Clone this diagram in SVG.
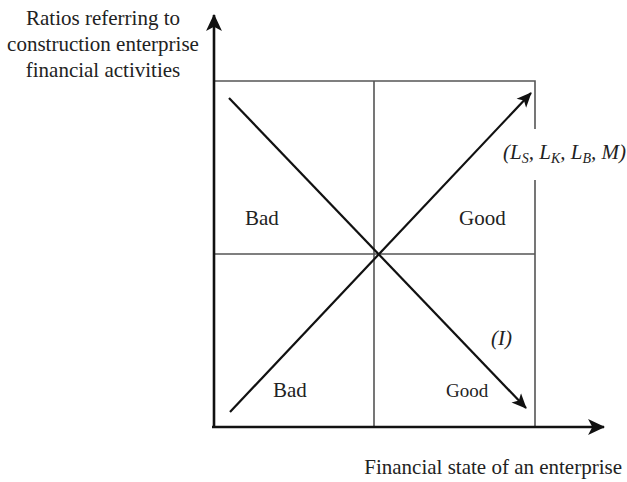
<svg xmlns="http://www.w3.org/2000/svg" width="627" height="482" viewBox="0 0 627 482">
<style>
text{font-family:"Liberation Serif","Times New Roman",serif;fill:#222;}
.lbl{font-size:21px;}
.grid{stroke:#555;stroke-width:1.6;fill:none;}
.axis{stroke:#111;stroke-width:2.6;fill:none;}
.diag{stroke:#111;stroke-width:2.2;fill:none;}
</style>
<defs>
<marker id="ah" viewBox="0 0 16 16" refX="15" refY="8" markerWidth="15" markerHeight="15" orient="auto" markerUnits="userSpaceOnUse">
<path d="M0,1 L16,8 L0,15 L4,8 Z" fill="#111"/>
</marker>
<marker id="ax" viewBox="0 0 16 16" refX="15" refY="8" markerWidth="17" markerHeight="17" orient="auto" markerUnits="userSpaceOnUse">
<path d="M0,0.5 L16,8 L0,15.5 L4,8 Z" fill="#111"/>
</marker>
</defs>
<g id="grid">
<path class="grid" d="M214,81 H535 V129 M535,180 V427 M374,81 V427 M214,254 H535"/>
</g>
<g id="connectors">
<line class="axis" x1="214" y1="428" x2="214" y2="15" marker-end="url(#ax)"/>
<line class="axis" x1="212" y1="427" x2="604" y2="427" marker-end="url(#ax)"/>
<line class="diag" x1="229" y1="98" x2="526" y2="408" marker-end="url(#ah)"/>
<line class="diag" x1="230" y1="412" x2="531" y2="93" marker-end="url(#ah)"/>
</g>
<g id="y-label">
<text class="lbl" x="103" y="25" text-anchor="middle">Ratios referring to</text>
<text class="lbl" x="103" y="51" text-anchor="middle">construction enterprise</text>
<text class="lbl" x="103" y="77" text-anchor="middle">financial activities</text>
</g>
<g id="x-label">
<text class="lbl" x="622" y="474" text-anchor="end">Financial state of an enterprise</text>
</g>
<g id="q-tl"><text class="lbl" x="245" y="225">Bad</text></g>
<g id="q-tr"><text class="lbl" x="459" y="225">Good</text></g>
<g id="q-bl"><text class="lbl" x="273" y="397">Bad</text></g>
<g id="q-br"><text x="446" y="397" style="font-size:19px">Good</text></g>
<g id="label-I"><text class="lbl" x="491" y="345" font-style="italic">(I)</text></g>
<g id="label-L"><text class="lbl" x="503" y="159" font-style="italic">(L<tspan font-size="14" dy="4">S</tspan><tspan dy="-4">, L</tspan><tspan font-size="14" dy="4">K</tspan><tspan dy="-4">, L</tspan><tspan font-size="14" dy="4">B</tspan><tspan dy="-4">, M)</tspan></text></g>
</svg>
